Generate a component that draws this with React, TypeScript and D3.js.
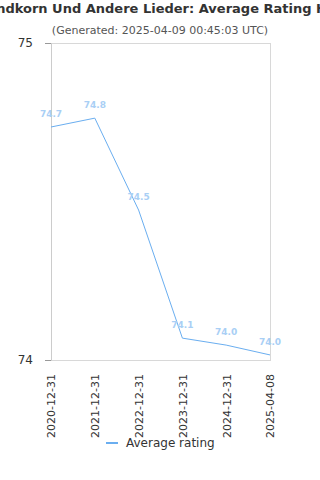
import React, { useEffect, useRef } from "react";
import * as d3 from "d3";

const dates = ["2020-12-31", "2021-12-31", "2022-12-31", "2023-12-31", "2024-12-31", "2025-04-08"];
const ratings = [74.735, 74.763, 74.473, 74.069, 74.047, 74.016];
const labels = ["74.7", "74.8", "74.5", "74.1", "74.0", "74.0"];
const yTicks = [74, 75];

const W = 320;
const H = 480;
const font = "DejaVu Sans, sans-serif";

export default function App() {
  const ref = useRef<SVGSVGElement>(null);

  useEffect(() => {
    const svg = d3.select(ref.current);
    svg.selectAll("*").remove();

    const left = 51, right = 270, top = 43, bottom = 360;

    const x = d3.scalePoint().domain(dates).range([left, right]);
    const y = d3.scaleLinear().domain([74, 75]).range([bottom, top]);

    svg.append("rect").attr("width", W).attr("height", H).attr("fill", "#fff");

    // title (wider than the chart, cut at both sides like the original)
    svg.append("text")
      .attr("x", W / 2).attr("y", 13)
      .attr("text-anchor", "middle")
      .style("font-family", font).style("font-size", "13px").style("font-weight", "bold")
      .attr("fill", "#333")
      .text("Ein Sandkorn Und Andere Lieder: Average Rating History");

    svg.append("text")
      .attr("x", W / 2).attr("y", 34)
      .attr("text-anchor", "middle")
      .style("font-family", font).style("font-size", "11px")
      .attr("fill", "#555")
      .text("(Generated: 2025-04-09 00:45:03 UTC)");

    // plot frame
    svg.append("rect")
      .attr("x", left).attr("y", top)
      .attr("width", right - left).attr("height", bottom - top)
      .attr("fill", "none").attr("stroke", "#d8d8d8").attr("stroke-width", 1)
      .attr("shape-rendering", "crispEdges");

    // y axis
    const yAxis = svg.append("g").attr("transform", `translate(${left},0)`)
      .call(d3.axisLeft(y).tickValues(yTicks).tickFormat(d3.format("d")).tickSize(6).tickPadding(12));
    yAxis.select(".domain").attr("stroke", "#ccc");
    yAxis.selectAll(".tick line").attr("stroke", "#999");
    yAxis.selectAll("text").attr("fill", "#333").style("font-family", font).style("font-size", "12px");

    // x axis, rotated labels
    const xAxis = svg.append("g").attr("transform", `translate(0,${bottom})`)
      .call(d3.axisBottom(x).tickSize(0));
    xAxis.select(".domain").remove();
    xAxis.selectAll("text")
      .attr("fill", "#333").style("font-family", font).style("font-size", "11px")
      .attr("text-anchor", "end")
      .attr("transform", "rotate(-90)")
      .attr("x", -14).attr("y", 0).attr("dy", "0.35em");

    // line
    const line = d3.line<number>()
      .x((_, i) => x(dates[i]) as number)
      .y((d) => y(d));
    svg.append("path")
      .datum(ratings)
      .attr("d", line)
      .attr("fill", "none")
      .attr("stroke", "#6aaef0")
      .attr("stroke-width", 1);

    // data labels
    svg.selectAll(".dl")
      .data(ratings)
      .enter()
      .append("text")
      .attr("class", "dl")
      .attr("x", (_, i) => x(dates[i]) as number)
      .attr("y", (d) => y(d) - 10)
      .attr("text-anchor", "middle")
      .style("font-family", font).style("font-size", "9px").style("font-weight", "bold")
      .attr("fill", "#a9cff5")
      .text((_, i) => labels[i]);

    // legend
    const lg = svg.append("g").attr("transform", "translate(106,443)");
    lg.append("line").attr("x1", 0).attr("x2", 12).attr("y1", 0).attr("y2", 0)
      .attr("stroke", "#6aaef0").attr("stroke-width", 2);
    lg.append("text").attr("x", 20).attr("y", 4)
      .style("font-family", font).style("font-size", "12px")
      .attr("fill", "#333").text("Average rating");
  }, []);

  return <svg ref={ref} width={W} height={H} style={{ position: "absolute", left: 0, top: 0 }} />;
}
